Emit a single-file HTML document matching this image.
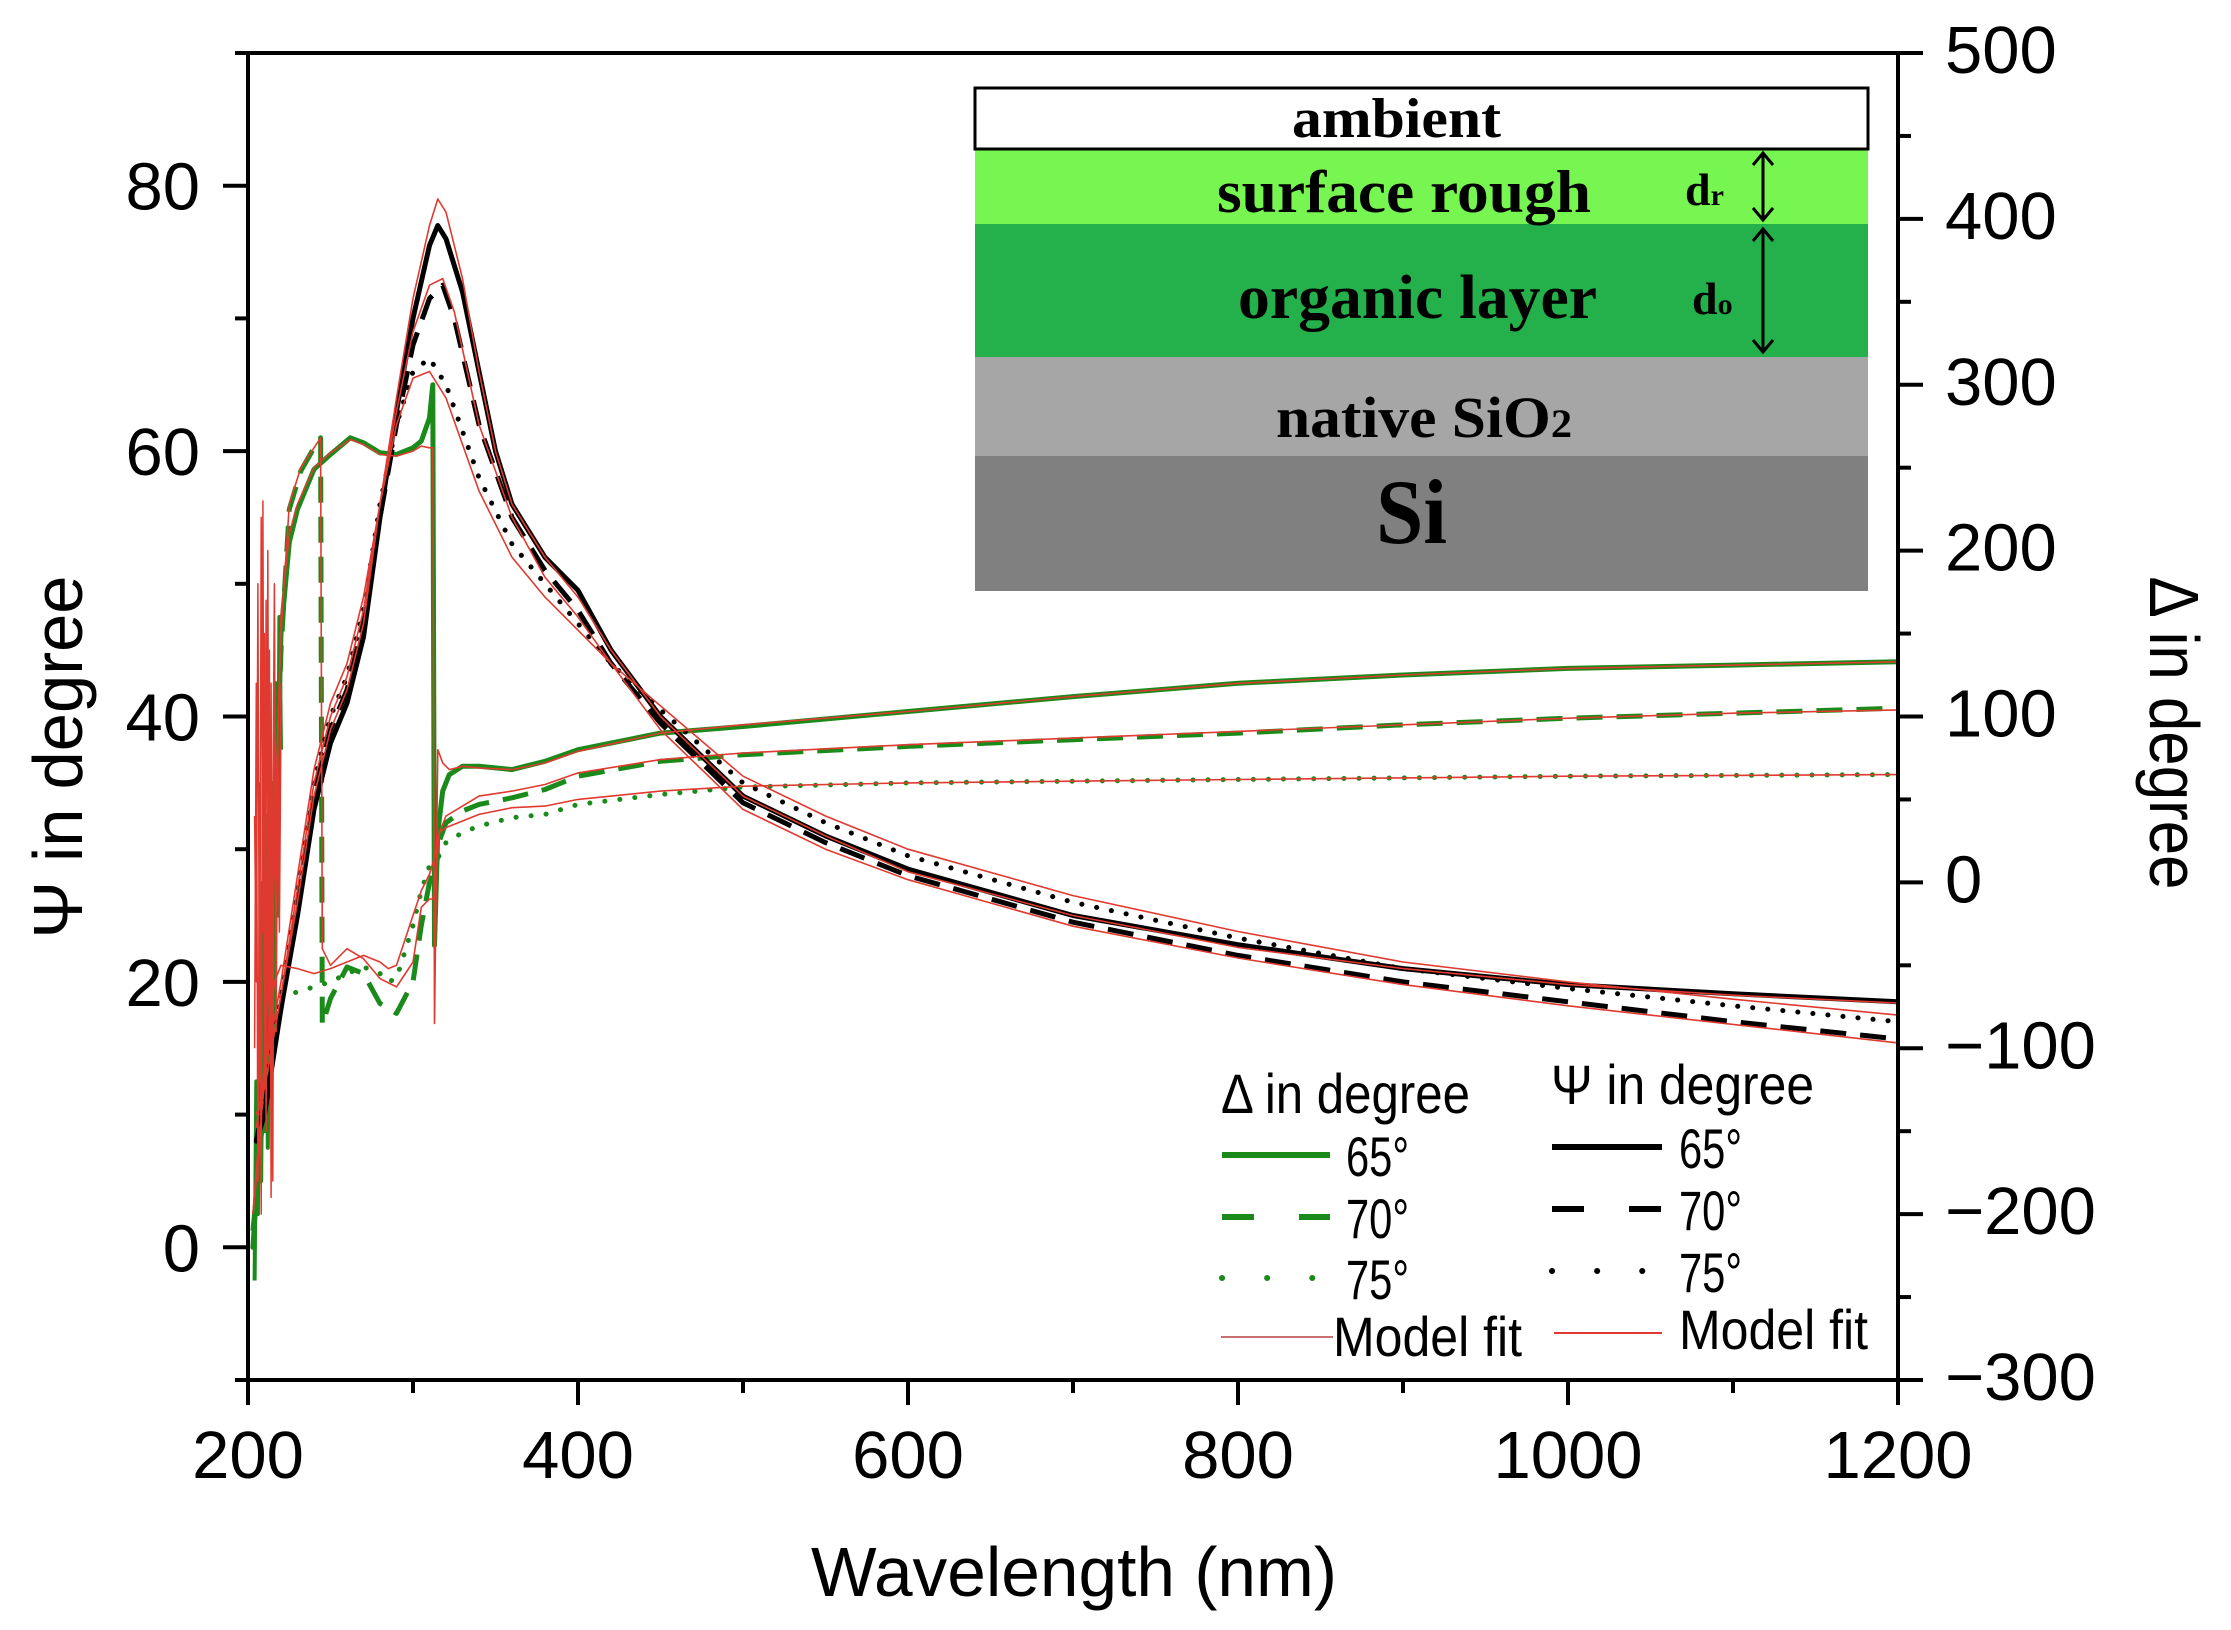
<!DOCTYPE html>
<html><head><meta charset="utf-8"><style>
html,body{margin:0;padding:0;background:#fff}
svg{display:block}
text{font-family:"Liberation Sans",sans-serif}
.ser{font-family:"Liberation Serif",serif;font-weight:bold}
</style></head><body>
<svg id="chart" width="2231" height="1630" viewBox="0 0 2231 1630" xmlns="http://www.w3.org/2000/svg">
<g id="inset">
  <rect x="975" y="455" width="893" height="136" fill="#808080"/>
  <rect x="975" y="356" width="893" height="100" fill="#a6a6a6"/>
  <rect x="975" y="223" width="893" height="134" fill="#24b04a"/>
  <rect x="975" y="149" width="893" height="75" fill="#77f550"/>
  <rect x="975" y="88" width="893" height="61" fill="#fff" stroke="#000" stroke-width="3"/>
  <text class="ser" x="1292" y="137" font-size="56" textLength="209" lengthAdjust="spacingAndGlyphs">ambient</text>
  <text class="ser" x="1217" y="212" font-size="60" textLength="374" lengthAdjust="spacingAndGlyphs">surface rough</text>
  <text class="ser" x="1238" y="318" font-size="62" textLength="359" lengthAdjust="spacingAndGlyphs">organic layer</text>
  <text class="ser" x="1276" y="437" font-size="58" textLength="296" lengthAdjust="spacingAndGlyphs">native SiO<tspan font-size="40">2</tspan></text>
  <text class="ser" x="1376" y="543" font-size="92" textLength="71" lengthAdjust="spacingAndGlyphs">Si</text>
  <text class="ser" x="1685" y="205" font-size="46">d<tspan font-size="30">r</tspan></text>
  <text class="ser" x="1692" y="314" font-size="46">d<tspan font-size="30">o</tspan></text>
  <g stroke="#000" stroke-width="3" fill="none">
    <line x1="1763" y1="153" x2="1763" y2="220"/><polyline points="1753,165 1763,153 1773,165"/><polyline points="1753,208 1763,220 1773,208"/>
    <line x1="1763" y1="229" x2="1763" y2="352"/><polyline points="1753,241 1763,229 1773,241"/><polyline points="1753,340 1763,352 1773,340"/>
  </g>
</g>
<g id="plot"></g>
<g id="axes"></g>
<text transform="translate(82,757) rotate(-90)" font-size="70" text-anchor="middle" textLength="363" lengthAdjust="spacingAndGlyphs">Ψ in degree</text>
<text transform="translate(2150,733) rotate(90)" font-size="70" text-anchor="middle" textLength="313" lengthAdjust="spacingAndGlyphs">Δ in degree</text>
<text x="1074" y="1596" font-size="70" text-anchor="middle" textLength="526" lengthAdjust="spacingAndGlyphs">Wavelength (nm)</text>
<g id="legend"></g>
</svg>
<script>
const NS="http://www.w3.org/2000/svg";
// ---- data ----
const xTicks=[200,400,600,800,1000,1200];
const psiTicks=[0,20,40,60,80];
const delTicks=[-300,-200,-100,0,100,200,300,400,500];
const psi65X=[205,210,220,230,240,250,260,270,280,290,300,310,315,320,330,340,350,360,380,400,420,450,500,550,600,700,800,900,1000,1100,1200];
const psi65Y=[8,10,18,25,33,38,41,46,55,63,70,75.5,77,76,72,66,60,56,52,49.5,45,40,34,31,28.5,25,22.8,21,19.8,19.1,18.5];
const psi70X=[205,210,220,230,240,250,260,270,280,290,300,310,318,325,340,360,380,400,420,450,500,550,600,700,800,900,1000,1100,1200];
const psi70Y=[8,11,18,26,34,39,42,47,55,62,68,71.5,72.5,70,62,55,51,48,44,39.5,33.5,30.5,28,24.5,22,20,18.5,17,15.7];
const psi75X=[205,210,220,230,240,250,260,270,280,290,300,310,320,340,360,380,400,420,450,500,550,600,700,800,900,1000,1100,1200];
const psi75Y=[8,12,19,27,35,40,43,48,56,62,66,67,65,58,53,50,47,44,40.5,35,32,29.5,26,23.3,21,19.5,18.2,17];
const fit65Y=[10,12,19,26,34,39,42,47,56,64,71.5,77,79,78,73,66,60,56,52,49,45,40,34,31,28.3,25,22.6,21,19.8,19,18.4];
const fit70Y=[10,12,19,27,35,40,43,48,56,63,69,72.5,73,70.5,62,55,50.5,47.5,44,39,33,30,27.7,24.2,21.8,19.8,18.2,16.8,15.4];
const fit75Y=[9,13,20,28,36,41,44,49,56,62,65.5,66,64,57,52,49,46.5,44,40.8,35.5,32.5,30,26.5,23.8,21.5,20,18.7,17.5];
const del65X=[203,207,212,216,220,225,230,240,250,262,270,280,290,300,305,310,312,313,315,318,322,330,340,360,380,400,450,500,600,700,800,900,1000,1100,1200];
const del65Y=[-220,-160,-120,0,150,205,225,249,258,268,265,259,258,262,266,280,300,-38,30,55,65,70,70,68,73,80,90,94,103,112,120,125,129,131,133];
const del70X=[203,207,212,216,220,225,232,240,244,245,250,260,270,280,290,300,305,310,312,313,316,320,330,340,360,380,400,450,500,600,700,800,900,1000,1100,1200];
const del70Y=[-210,-170,-80,20,140,225,248,262,268,-86,-70,-51,-55,-73,-79,-60,-26,0,5,0,25,36,43,47,51,56,64,73,77,82,86,90,95,99,102,105];
const del75X=[203,207,212,216,220,230,240,250,260,270,280,285,290,300,305,310,313,316,320,330,340,360,380,400,450,500,600,700,800,900,1000,1100,1200];
const del75Y=[-220,-160,-110,-70,-69,-66,-63,-60,-55,-51,-55,-60,-58,-26,-5,10,5,17,24,30,34,39,41,47,53,57.5,60,61,62,63,64,64.5,65];
const dfit65Y=[-200,-150,-100,10,160,210,228,250,259,267,264,258,257,260,263,262,262,-85,80,72,68,70,69,68,72,79,90,95,103,112,120,125,129,131,133];
const dfit70Y=[-200,-160,-70,30,150,228,250,262,268,-40,-50,-40,-46,-58,-63,-48,-15,-10,-10,-5,30,40,46,52,55,59,66,74,78,83,87,91,95,99,102,104];
const dfit75Y=[-200,-150,-100,-60,-50,-52,-55,-52,-48,-44,-48,-52,-50,-20,-5,5,15,30,33,37,41,45,46,50,55,58,60,61,62,63,64,64.5,65];
const noiseX=[204,205,206,207,208,209,210,211,212,213,214,215,216,217,218,219,220];
const noiseA=[40,-60,180,-120,220,-30,150,-150,200,-80,120,-180,160,-40,90,10,120];
const noiseB=[-100,120,-180,60,-200,230,-120,170,-60,140,-190,40,180,-90,60,-30,100];
const noiseG=[-240,-120,-200,-60,-180,0,-150,40,-160,-50,-130,60,-100,120,-20,160,80];
// ---- scales ----
const X0=248,X1=1898,Y0=53,Y1=1380;
const sx=v=>X0+(v-200)/1000*(X1-X0);
const sPsi=v=>Y1-(v+10)/100*(Y1-Y0);
const sDel=v=>Y1-(v+300)/800*(Y1-Y0);
const plot=document.getElementById('plot');
function line(xs,ys,sy,color,w,dash,name){
  const p=document.createElementNS(NS,'path');
  p.setAttribute('d',xs.map((x,i)=>(i?'L':'M')+sx(x).toFixed(1)+','+sy(ys[i]).toFixed(1)).join(''));
  p.setAttribute('fill','none');p.setAttribute('stroke',color);p.setAttribute('stroke-width',w);
  p.setAttribute('stroke-linejoin','round');
  if(dash){p.setAttribute('stroke-dasharray',dash);if(dash.startsWith('0.1'))p.setAttribute('stroke-linecap','round');}
  
  
  plot.appendChild(p);
}
const G='#1a8a1a',R='#e03a30';
line(noiseX,noiseG,sDel,G,4,null,'delta-noise-green');
line(del65X,del65Y,sDel,G,5,null,'delta-65-line');
line(del70X,del70Y,sDel,G,5,'26,14','delta-70-line');
line(del75X,del75Y,sDel,G,5,'0.1,15','delta-75-line');
line(psi65X,psi65Y,sPsi,'#000',5,null,'psi-65-line');
line(psi70X,psi70Y,sPsi,'#000',5,'26,14','psi-70-line');
line(psi75X,psi75Y,sPsi,'#000',5,'0.1,15','psi-75-line');
line(noiseX,noiseA,sDel,R,1.5,null,'delta-fit-noise-a');
line(noiseX,noiseB,sDel,R,1.5,null,'delta-fit-noise-b');
line(del65X,dfit65Y,sDel,R,1.6,null,'delta-65-fit');
line(del70X,dfit70Y,sDel,R,1.6,null,'delta-70-fit');
line(del75X,dfit75Y,sDel,R,1.6,null,'delta-75-fit');
line(psi65X,fit65Y,sPsi,R,1.6,null,'psi-65-fit');
line(psi70X,fit70Y,sPsi,R,1.6,null,'psi-70-fit');
line(psi75X,fit75Y,sPsi,R,1.6,null,'psi-75-fit');
// ---- axes ----
const ax=document.getElementById('axes');
function el(tag,attrs,txt){const e=document.createElementNS(NS,tag);for(const k in attrs)e.setAttribute(k,attrs[k]);if(txt!==undefined)e.textContent=txt;ax.appendChild(e);return e;}
let frame=el('path',{d:`M${X0},${Y0}H${X1}V${Y1}H236M${X0},${Y0}V${Y1}`,fill:'none',stroke:'#000','stroke-width':4});


for(let v=200;v<=1200;v+=100){const big=v%200===0;
  const t=el('line',{x1:sx(v),x2:sx(v),y1:Y1,y2:Y1+(big?25:13),stroke:'#000','stroke-width':4});
  
  }
xTicks.forEach(v=>{const t=el('text',{x:sx(v),y:1478,'font-size':67,'text-anchor':'middle'},String(v));
  
  });
for(let v=-10;v<=90;v+=10){const big=v%20===0&&v>=0&&v<=80;
  const t=el('line',{x1:X0,x2:X0-(big?25:13),y1:sPsi(v),y2:sPsi(v),stroke:'#000','stroke-width':4});
  
  }
psiTicks.forEach(v=>{const t=el('text',{x:200,y:sPsi(v)+24,'font-size':67,'text-anchor':'end'},String(v));
  
  });
for(let v=-300;v<=500;v+=50){const big=v%100===0;
  const t=el('line',{x1:X1,x2:X1+(big?25:13),y1:sDel(v),y2:sDel(v),stroke:'#000','stroke-width':4});
  
  }
delTicks.forEach(v=>{const t=el('text',{x:1945,y:sDel(v)+20,'font-size':67},String(v).replace('-','−'));
  
  });
// ---- legend ----
const lg=document.getElementById('legend');
function lel(tag,attrs,txt){const e=document.createElementNS(NS,tag);for(const k in attrs)e.setAttribute(k,attrs[k]);if(txt!==undefined)e.textContent=txt;lg.appendChild(e);return e;}
let e;
e=lel('text',{x:1221,y:1113,'font-size':56,textLength:249,lengthAdjust:'spacingAndGlyphs'},'Δ in degree');


e=lel('text',{x:1551,y:1104,'font-size':56,textLength:263,lengthAdjust:'spacingAndGlyphs'},'Ψ in degree');


const rowsD=[1155,1217,1278],rowsP=[1147,1209,1271],labs=['65°','70°','75°'],dashes=[null,'32,45','0.1,45'];
for(let i=0;i<3;i++){
  e=lel('line',{x1:1222,x2:1330,y1:rowsD[i],y2:rowsD[i],stroke:G,'stroke-width':6,'stroke-dasharray':dashes[i]||'none','stroke-linecap':i==2?'round':'butt'});
  
  
  e=lel('text',{x:1346,y:rowsD[i]+21,'font-size':56,textLength:63,lengthAdjust:'spacingAndGlyphs'},labs[i]);
  
  
  e=lel('line',{x1:1552,x2:1662,y1:rowsP[i],y2:rowsP[i],stroke:'#000','stroke-width':6,'stroke-dasharray':dashes[i]||'none','stroke-linecap':i==2?'round':'butt'});
  
  
  e=lel('text',{x:1679,y:rowsP[i]+21,'font-size':56,textLength:63,lengthAdjust:'spacingAndGlyphs'},labs[i]);
  
  
}
e=lel('line',{x1:1221,x2:1333,y1:1337,y2:1337,stroke:'#c87070','stroke-width':2});


e=lel('text',{x:1333,y:1356,'font-size':56,textLength:189,lengthAdjust:'spacingAndGlyphs'},'Model fit');


e=lel('line',{x1:1554,x2:1662,y1:1333,y2:1333,stroke:R,'stroke-width':2});


e=lel('text',{x:1679,y:1349,'font-size':56,textLength:189,lengthAdjust:'spacingAndGlyphs'},'Model fit');


</script>
</body></html>
